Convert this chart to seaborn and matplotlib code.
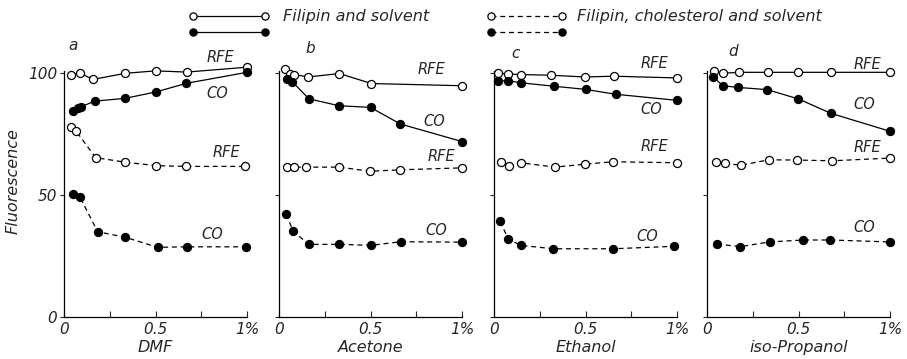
import numpy as np
import pandas as pd
import seaborn as sns
import matplotlib
matplotlib.use("Agg")
import matplotlib.pyplot as plt
from matplotlib.lines import Line2D

# ---------------- data ----------------
solvents = ["DMF", "Acetone", "Ethanol", "iso-Propanol"]
panel_letters = ["a", "b", "c", "d"]

# Filipin and solvent (solid lines)
a_rfe_x = [0.038, 0.087, 0.16, 0.335, 0.50, 0.67, 1.0]
a_rfe_y = [99.5, 100.0, 97.5, 100.0, 101.0, 100.5, 102.5]
a_co_x = [0.047, 0.075, 0.093, 0.169, 0.333, 0.505, 0.669, 1.0]
a_co_y = [84.6, 85.6, 86.3, 88.6, 89.7, 92.4, 95.9, 100.4]
# Filipin, cholesterol and solvent (dashed lines)
a_rfe2_x = [0.036, 0.065, 0.173, 0.336, 0.505, 0.669, 0.99]
a_rfe2_y = [78.0, 76.4, 65.4, 63.5, 62.1, 61.8, 61.8]
a_co2_x = [0.051, 0.087, 0.184, 0.336, 0.511, 0.673, 0.995]
a_co2_y = [50.5, 49.2, 35.0, 32.7, 28.6, 28.8, 28.8]

b_rfe_x = [0.031, 0.058, 0.082, 0.16, 0.33, 0.505, 1.0]
b_rfe_y = [101.6, 99.9, 99.5, 98.5, 99.9, 95.8, 94.9]
b_co_x = [0.044, 0.073, 0.164, 0.328, 0.50, 0.663, 1.0]
b_co_y = [97.8, 96.5, 89.5, 86.7, 86.0, 79.2, 72.0]
b_rfe2_x = [0.044, 0.082, 0.149, 0.328, 0.499, 0.663, 1.0]
b_rfe2_y = [61.5, 61.5, 61.5, 61.5, 59.8, 60.4, 61.2]
b_co2_x = [0.04, 0.077, 0.162, 0.328, 0.505, 0.665, 1.0]
b_co2_y = [42.2, 35.2, 29.8, 29.8, 29.4, 30.9, 30.7]

c_rfe_x = [0.024, 0.075, 0.145, 0.311, 0.496, 0.656, 1.0]
c_rfe_y = [100.1, 99.7, 99.5, 99.2, 98.5, 98.8, 98.1]
c_co_x = [0.024, 0.075, 0.147, 0.327, 0.50, 0.664, 1.0]
c_co_y = [96.8, 97.0, 96.1, 94.7, 93.4, 91.4, 88.9]
c_rfe2_x = [0.036, 0.084, 0.145, 0.333, 0.496, 0.651, 1.0]
c_rfe2_y = [63.7, 62.1, 63.3, 61.5, 62.7, 63.7, 63.3]
c_co2_x = [0.033, 0.078, 0.145, 0.324, 0.651, 0.985]
c_co2_y = [39.2, 32.1, 29.4, 28.0, 28.0, 29.0]

d_rfe_x = [0.037, 0.086, 0.174, 0.333, 0.499, 0.676, 1.0]
d_rfe_y = [101.1, 100.0, 100.4, 100.4, 100.4, 100.4, 100.4]
d_co_x = [0.033, 0.086, 0.17, 0.329, 0.499, 0.676, 1.0]
d_co_y = [98.6, 94.9, 94.2, 93.3, 89.5, 83.6, 76.2]
d_rfe2_x = [0.049, 0.10, 0.186, 0.338, 0.494, 0.682, 1.0]
d_rfe2_y = [63.4, 63.0, 62.3, 64.5, 64.4, 64.1, 65.2]
d_co2_x = [0.055, 0.183, 0.342, 0.527, 0.673, 1.0]
d_co2_y = [29.9, 28.9, 30.8, 31.6, 31.6, 30.8]

series_names = ["RFE", "CO", "RFE", "CO"]
legend_labels = ["Filipin and solvent", "Filipin, cholesterol and solvent"]

panels = [
    [(a_rfe_x, a_rfe_y), (a_co_x, a_co_y), (a_rfe2_x, a_rfe2_y), (a_co2_x, a_co2_y)],
    [(b_rfe_x, b_rfe_y), (b_co_x, b_co_y), (b_rfe2_x, b_rfe2_y), (b_co2_x, b_co2_y)],
    [(c_rfe_x, c_rfe_y), (c_co_x, c_co_y), (c_rfe2_x, c_rfe2_y), (c_co2_x, c_co2_y)],
    [(d_rfe_x, d_rfe_y), (d_co_x, d_co_y), (d_rfe2_x, d_rfe2_y), (d_co2_x, d_co2_y)],
]

# label positions (data coords) for each panel: RFE, CO, RFE, CO
label_pos = [
    [(0.78, 106.5), (0.78, 91.8), (0.81, 67.3), (0.75, 34.0)],
    [(0.76, 101.6), (0.79, 80.3), (0.81, 65.8), (0.80, 35.6)],
    [(0.80, 104.2), (0.80, 85.3), (0.80, 69.8), (0.78, 33.0)],
    [(0.80, 103.8), (0.80, 87.0), (0.80, 69.6), (0.80, 36.7)],
]
letter_pos = [(0.05, 111.5), (0.17, 110.0), (0.12, 108.0), (0.14, 109.0)]

# ---------------- style ----------------
sns.set_theme(style="white")
plt.rcParams["font.family"] = ["DejaVu Sans"]
plt.rcParams["font.style"] = "italic"

W, H = 907, 359
fig = plt.figure(figsize=(W / 100, H / 100), dpi=100)

lefts_px = [64, 279, 494, 707]
width_px = 183
bottom_px = 317  # y = 0
px_per_unit = 2.437
ymax = 103
ax_h_px = ymax * px_per_unit

lw = 0.9
ms = 5.8
styles = [
    dict(linestyle="-", markerfacecolor="white"),
    dict(linestyle="-", markerfacecolor="black"),
    dict(linestyle=(0, (4, 3)), markerfacecolor="white"),
    dict(linestyle=(0, (4, 3)), markerfacecolor="black"),
]

for i, (lp, data) in enumerate(zip(lefts_px, panels)):
    ax = fig.add_axes([lp / W, (H - bottom_px) / H, width_px / W, ax_h_px / H])
    for (xs, ys), st in zip(data, styles):
        df = pd.DataFrame({"x": xs, "y": ys})
        sns.lineplot(data=df, x="x", y="y", ax=ax, color="black", lw=lw,
                     marker="o", markersize=ms, markeredgecolor="black",
                     markeredgewidth=0.9, clip_on=False, estimator=None,
                     **st)
    for name, (tx, ty) in zip(series_names, label_pos[i]):
        ax.text(tx, ty, name, fontsize=10.5, ha="left", va="center")
    ax.text(letter_pos[i][0], letter_pos[i][1], panel_letters[i], fontsize=11,
            ha="center", va="center", clip_on=False)
    ax.set_xlim(0, 1.0)
    ax.set_ylim(0, ymax)
    for s in ["top", "right"]:
        ax.spines[s].set_visible(False)
    for s in ["left", "bottom"]:
        ax.spines[s].set_color("black")
        ax.spines[s].set_linewidth(0.9)
    ax.spines["left"].set_bounds(0, 101)
    ax.set_xticks([0, 0.5, 1.0])
    ax.set_xticklabels(["0", "0.5", "1%"])
    ax.set_xticks([0.25, 0.75], minor=True)
    ax.set_yticks([0, 50, 100])
    ax.tick_params(axis="x", which="both", direction="in", length=4, width=0.8,
                   labelsize=11, pad=3.5, bottom=True)
    ax.tick_params(axis="y", which="both", direction="out", length=3, width=0.8,
                   labelsize=11, pad=2, left=True)
    if i == 0:
        ax.set_yticklabels(["0", "50", "100"])
        ax.set_ylabel("Fluorescence", fontsize=11.5)
        ax.yaxis.set_label_coords(-0.24, 0.54)
    else:
        ax.set_yticklabels([])
        ax.set_ylabel("")
    ax.set_xlabel(solvents[i], fontsize=11.5, labelpad=2)
    ax.patch.set_alpha(0)

# ---------------- legend (manual, figure pixels) ----------------
def fig_line(x0, x1, y, ls, fc):
    ln = Line2D([x0 / W, x1 / W], [(H - y) / H, (H - y) / H], transform=fig.transFigure,
                color="black", lw=lw, linestyle=ls)
    fig.add_artist(ln)
    for xx in (x0, x1):
        fig.add_artist(Line2D([xx / W], [(H - y) / H], transform=fig.transFigure,
                              marker="o", markersize=5.2, markerfacecolor=fc,
                              markeredgecolor="black", markeredgewidth=0.9, lw=0))

fig_line(193, 265, 16, "-", "white")
fig_line(193, 265, 32, "-", "black")
fig_line(491, 562, 16, (0, (4, 3)), "white")
fig_line(491, 562, 32, (0, (4, 3)), "black")
fig.text(283 / W, (H - 17) / H, legend_labels[0], fontsize=11.5, va="center", ha="left")
fig.text(577 / W, (H - 17) / H, legend_labels[1], fontsize=11.5, va="center", ha="left")

fig.savefig("out.png", dpi=100)
